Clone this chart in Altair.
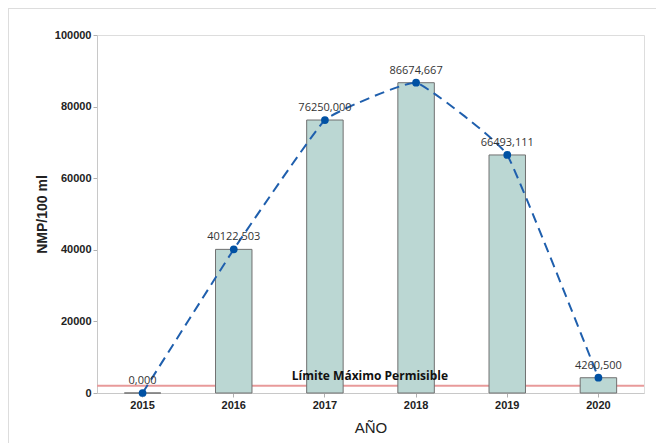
import altair as alt
import pandas as pd

years = ["2015", "2016", "2017", "2018", "2019", "2020"]
values = [0.0, 40122.503, 76250.000, 86674.667, 66493.111, 4260.500]
labels = ["0,000", "40122,503", "76250,000", "86674,667", "66493,111", "4260,500"]
limit_value = 2000
limit_label = "Límite Máximo Permisible"

df = pd.DataFrame({"year": years, "value": values, "label": labels})
lim = pd.DataFrame({"y": [limit_value], "text": [limit_label], "year": ["2017"]})

FONT = "Open Sans"

xenc = alt.X("year:N", title="AÑO",
             scale=alt.Scale(paddingInner=0.6, paddingOuter=0.3),
             axis=alt.Axis(labelAngle=0, labelFontWeight=600, labelFontSize=11,
                           titleFontSize=15, titleFontWeight="normal", titlePadding=10,
                           domainColor="#c8c8c8", tickColor="#b0b0b0", labelColor="#222",
                           titleColor="#222", tickSize=4))
yscale = alt.Scale(domain=[0, 100000], nice=False)
yaxis = alt.Axis(values=[0, 20000, 40000, 60000, 80000, 100000], grid=False, format="d",
                 labelFontWeight=600, labelFontSize=11, titleFontSize=14,
                 titleFontWeight="bold", titlePadding=5, domainColor="#c8c8c8",
                 tickColor="#b0b0b0", labelColor="#222", titleColor="#222", tickSize=4)

limit_rule = alt.Chart(lim).mark_rule(color="#E89A9A", strokeWidth=2).encode(
    y=alt.Y("y:Q", scale=yscale, axis=yaxis, title="NMP/100 ml"))

bars = alt.Chart(df).mark_bar(fill="#BBD7D3", stroke="#707070", strokeWidth=1).encode(
    x=xenc, y=alt.Y("value:Q", scale=yscale, axis=yaxis, title="NMP/100 ml"))

limit_text = alt.Chart(lim).mark_text(font=FONT, fontWeight="bold", fontSize=12,
                                      color="#111", dy=-10, dx=45).encode(
    x=alt.X("year:N"), y=alt.Y("y:Q"), text="text:N")

line = alt.Chart(df).mark_line(color="#1F5FAD", strokeWidth=2, strokeDash=[10, 6],
                               interpolate="cardinal", tension=0.7).encode(
    x="year:N", y="value:Q")

points = alt.Chart(df).mark_point(filled=True, color="#0051A3", size=60, opacity=1).encode(
    x="year:N", y="value:Q")

texts = alt.Chart(df).mark_text(font=FONT, fontSize=11, color="#333", dy=-12).encode(
    x="year:N", y="value:Q", text="label:N")

frame_left = alt.Chart(lim).mark_rule(color="#dddddd", strokeWidth=1).encode(
    x=alt.value(-88.5), y=alt.value(-27), y2=alt.value(420))
frame_top = alt.Chart(lim).mark_rule(color="#dddddd", strokeWidth=1).encode(
    x=alt.value(-89), x2=alt.value(570), y=alt.value(-26.5))

chart = alt.layer(frame_left, frame_top, limit_rule, bars, line, points, texts, limit_text).properties(
    width=547, height=358,
    padding={"left": 89, "top": 27, "right": 12, "bottom": 50},
    autosize=alt.AutoSizeParams(type="none"),
).configure_view(stroke="#b8b8b8", strokeWidth=1.5).configure_axis(
    labelFont=FONT, titleFont=FONT
).configure(background="white")

chart.save("out.html", embed_options={"renderer": "svg", "actions": False})
